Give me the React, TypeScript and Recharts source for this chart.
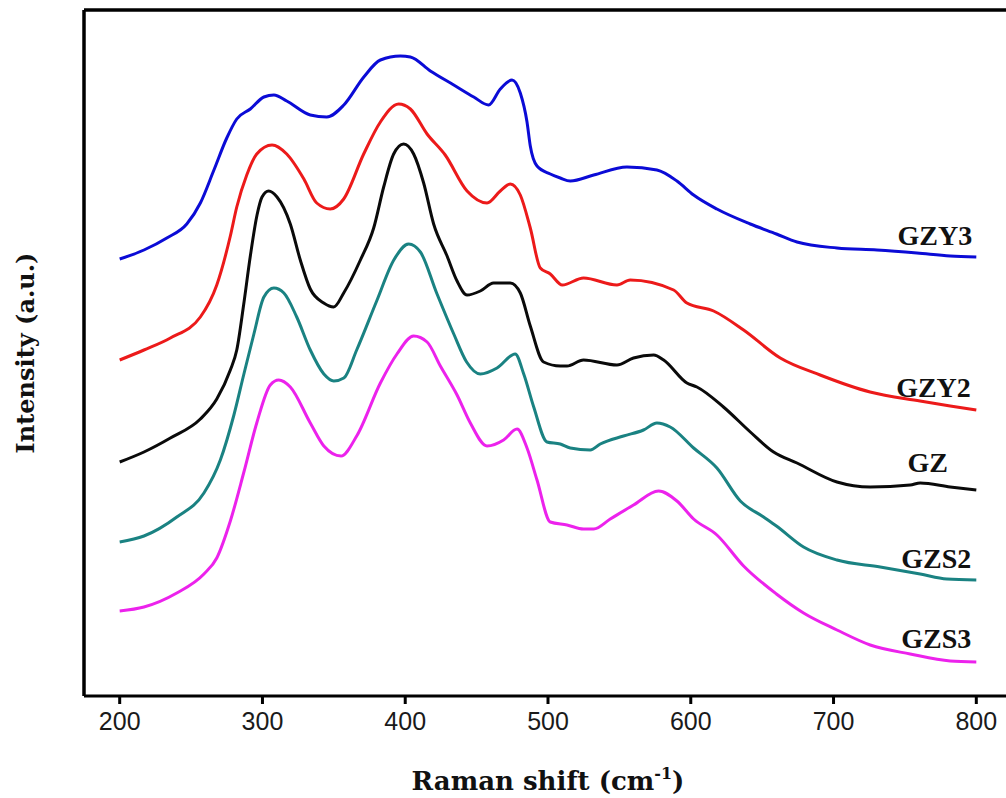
import React from 'react';
import { LineChart, Line, XAxis, YAxis, ReferenceLine, ReferenceDot } from 'recharts';

// Raman spectra: [shift (cm-1), intensity (a.u., stacked offset)]
const GZY3: [number, number][] = [
  [200, 437], [217, 446], [233, 458], [247, 472], [256.5, 493], [266, 526], [275, 558], [282, 577],
  [291.5, 587], [301, 599], [308, 601], [317, 595], [333.5, 581], [345, 579], [357, 591], [371, 619],
  [382.6, 636], [396.6, 640], [403.6, 639], [417.6, 625], [434, 611], [448, 599], [458.4, 591],
  [466.6, 607], [474.8, 616], [480.6, 603], [485.3, 574], [487.6, 550], [492.3, 530], [501.6, 522],
  [508.6, 518], [515.6, 515], [532, 521], [555.3, 529], [576.3, 526], [590.3, 515], [602, 501],
  [618.3, 487], [641.7, 472], [660, 462], [674.4, 454], [702.4, 448], [730.4, 446], [758.4, 443],
  [781.7, 440], [800, 439],
];

const GZY2: [number, number][] = [
  [200, 336], [217, 346], [235.5, 358], [256.5, 379], [268, 411], [277.5, 460], [282, 489], [289, 521],
  [296, 542], [306.7, 551], [317, 542], [329, 517], [338, 493], [347.5, 487], [356.9, 497], [370.9, 542],
  [382.6, 574], [395.4, 592], [403.6, 587], [415.3, 562], [428, 541], [443.3, 505], [457.3, 493],
  [466.6, 505], [473.6, 512], [480.6, 501], [487.6, 468], [494.6, 428], [501.6, 422], [510, 411],
  [524.9, 418], [548.3, 411], [557.6, 416], [588, 406], [597.3, 393], [616, 385], [637, 366],
  [662.7, 338], [690.6, 321], [725.6, 304], [760.6, 295], [781.7, 290], [800, 286],
];

const GZ: [number, number][] = [
  [200, 234], [217, 244], [235.5, 258], [256.5, 277], [268, 297], [277.5, 326], [282, 346], [286.8, 391],
  [291.5, 440], [296.2, 481], [299.7, 499], [304.3, 505], [310.2, 499], [319.5, 472], [326.5, 436],
  [333.5, 407], [342.9, 393], [349.9, 389], [356.9, 403], [368.6, 436], [377.9, 468], [384.9, 509],
  [391.9, 542], [398.9, 552], [405.9, 542], [412.9, 513], [419.9, 472], [429.3, 440], [436.3, 415],
  [443.3, 401], [452.6, 405], [461.9, 413], [473.6, 413], [480.6, 403], [487.6, 370], [496.9, 334],
  [508.6, 330], [513.3, 330], [524.9, 336], [548.3, 331], [559.9, 338], [574, 341], [581, 336],
  [597.3, 313], [604.3, 309], [622.9, 289], [641.7, 264], [658, 244], [674.4, 233], [702.4, 214],
  [725.7, 209], [753.7, 211], [760.7, 213], [781.7, 209], [800, 206],
];

const GZS2: [number, number][] = [
  [200, 154], [217, 160], [240, 179], [259, 203], [270.5, 236], [280, 281], [287, 322], [294, 362],
  [301, 399], [308, 408], [315, 403], [324, 379], [333.5, 346], [343, 322], [350, 315], [357, 318],
  [366, 346], [380, 395], [392, 436], [402.4, 452], [410.6, 444], [422, 403], [434, 362], [443, 334],
  [452.6, 322], [464.3, 328], [477, 342], [483, 322], [490, 289], [499.3, 254], [508.6, 252],
  [515.6, 248], [529.6, 246], [536.6, 252], [552.9, 260], [566.9, 266], [576.3, 273], [585.6, 269],
  [602, 248], [618.3, 228], [634.7, 195], [651, 179], [660, 170], [679, 149], [702.4, 136],
  [732.7, 129], [760.7, 122], [779.4, 117], [800, 116],
];

const GZS3: [number, number][] = [
  [200, 85], [217, 89], [240, 103], [259, 122], [268, 138], [277.5, 175], [287, 224], [296, 273],
  [305.5, 311], [311.4, 316], [319.5, 309], [333.5, 273], [343, 250], [355, 240], [366, 260],
  [382.6, 313], [394.2, 342], [405.9, 360], [415.3, 354], [424.6, 330], [436.3, 301], [445.6, 273],
  [457.3, 250], [468.9, 256], [478.3, 267], [485.3, 248], [492.3, 216], [501.6, 174], [513.3, 171],
  [524.9, 167], [532, 167], [543.6, 177], [559.9, 191], [577.4, 205], [590.3, 195], [602, 177],
  [618.3, 161], [637, 130], [660, 102], [679, 83], [702.4, 66], [725.7, 51], [753.7, 42],
  [781.7, 35], [800, 34],
];

const xTicks = [200, 300, 400, 500, 600, 700, 800];

const seriesNames = ['GZY3', 'GZY2', 'GZ', 'GZS2', 'GZS3'];
const seriesColors = ['#0b0bd6', '#ec1a1a', '#0a0a0a', '#1a8282', '#ec22ec'];
const seriesData = [GZY3, GZY2, GZ, GZS2, GZS3];

// where each sample name sits (shift, intensity) next to its curve
const labelShift = [771, 770, 766, 772, 772];
const labelIntensity = [451, 299, 224, 128, 48];

const toPoints = (arr: [number, number][]) => arr.map(([shift, intensity]) => ({ shift, intensity }));

const serif = '"Liberation Serif", "Times New Roman", serif';
const titleSerif = '"DejaVu Serif", Cambria, serif';

const XTitle = (props: any) => {
  const vb = props.viewBox || {};
  const cx = vb.x + vb.width / 2;
  const y = vb.y + 94;
  return (
    <text x={cx} y={y} textAnchor="middle" fontFamily={titleSerif} fontWeight="bold" fontSize={26} fill="#111">
      Raman shift (cm
      <tspan fontSize={16} dy={-11}>-1</tspan>
      <tspan dy={11}>)</tspan>
    </text>
  );
};

const YTitle = (props: any) => {
  const vb = props.viewBox || {};
  const x = vb.x + vb.width - 50;
  const cy = vb.y + vb.height / 2;
  return (
    <text x={x} y={cy} textAnchor="middle" fontFamily={titleSerif} fontWeight="bold" fontSize={24} fill="#111"
      transform={`rotate(-90 ${x} ${cy})`}>
      Intensity (a.u.)
    </text>
  );
};

const App: React.FC = () => {
  return (
    <div style={{ position: 'absolute', left: 0, top: 0, width: 1006, height: 798, overflow: 'hidden', background: '#fff' }}>
      <LineChart width={1020} height={798} margin={{ top: 10, right: 8, left: 20, bottom: 42 }}>
        <XAxis
          type="number"
          dataKey="shift"
          domain={[175, 825]}
          ticks={xTicks}
          height={60}
          axisLine={{ stroke: '#000', strokeWidth: 3 }}
          tickLine={{ stroke: '#000', strokeWidth: 3 }}
          tickSize={8}
          tickMargin={8}
          tick={{ fontFamily: '"Liberation Sans", Arial, sans-serif', fontSize: 25, fill: '#1a1a1a' }}
          label={<XTitle />}
        />
        <YAxis
          type="number"
          domain={[0, 686]}
          width={64}
          tick={false}
          tickLine={false}
          axisLine={{ stroke: '#000', strokeWidth: 3.5 }}
          label={<YTitle />}
        />
        <ReferenceLine y={686} stroke="#000" strokeWidth={3.5} />
        {seriesData.map((arr, i) => (
          <Line
            key={seriesNames[i]}
            data={toPoints(arr)}
            dataKey="intensity"
            type="monotone"
            stroke={seriesColors[i]}
            strokeWidth={3}
            dot={false}
            isAnimationActive={false}
          />
        ))}
        {seriesNames.map((name, i) => (
          <ReferenceDot
            key={name}
            x={labelShift[i]}
            y={labelIntensity[i]}
            r={0}
            fill="none"
            stroke="none"
            label={{
              content: (p: any) => (
                <text x={p.viewBox.x} y={p.viewBox.y} textAnchor="middle" fontFamily={serif}
                  fontWeight="bold" fontSize={28} fill="#111">
                  {name}
                </text>
              ),
            }}
          />
        ))}
      </LineChart>
    </div>
  );
};

export default App;
